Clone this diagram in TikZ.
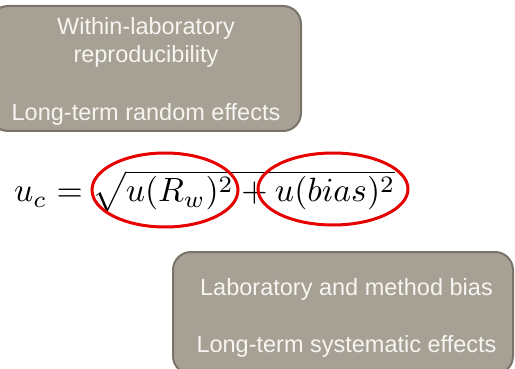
\documentclass[tikz,border=0pt]{standalone}
\usepackage{graphicx}
\usepackage{fontspec}
\setmainfont{Liberation Sans}
\usetikzlibrary{shapes.geometric}
\definecolor{boxfill}{RGB}{167,160,148}
\definecolor{boxline}{RGB}{122,115,104}
\definecolor{boxtext}{RGB}{246,245,242}
\definecolor{ringred}{RGB}{230,0,0}
\begin{document}
\begin{tikzpicture}[x=1pt,y=-1pt,
  panel/.style={draw=boxline,fill=boxfill,line width=2pt,rounded corners=18pt,rectangle,inner sep=0pt},
  lbl/.style={text=boxtext,font=\fontsize{23.5}{28}\selectfont,anchor=base,inner sep=0pt},
  ring/.style={draw=ringred,line width=3pt,ellipse,inner sep=0pt}]
\useasboundingbox (0,0) rectangle (515,369);
\node[panel,minimum width=311pt,minimum height=125pt] (b1) at (145.5,68.5) {};
\node[panel,minimum width=340pt,minimum height=122pt] (b2) at (343,313) {};
\node[lbl] (t1) at (146,35) {Within-laboratory};
\node[lbl] (t2) at (146,63) {reproducibility};
\node[lbl] (t3) at (146,121) {Long-term random effects};
\node[lbl] (t4) at (346.5,295) {Laboratory and method bias};
\node[lbl] (t5) at (346.5,352) {Long-term systematic effects};
\node[anchor=base west,inner sep=0pt] (eq) at (14,202) {\resizebox{381pt}{!}{$u_c = \sqrt{u(R_w)^2 + u(bias)^2}$}};
\node[ring,minimum width=146pt,minimum height=74pt] (e1) at (165,190) {};
\node[ring,minimum width=150pt,minimum height=72pt] (e2) at (333,189) {};
\end{tikzpicture}
\end{document}
